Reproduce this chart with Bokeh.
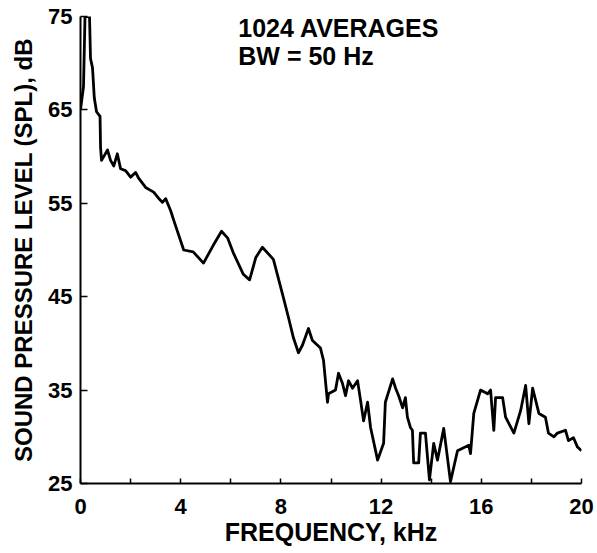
from bokeh.plotting import figure
from bokeh.models import FixedTicker, Label, Range1d
from bokeh.embed import file_html
from bokeh.resources import INLINE

# ---- data ----
freq_khz = [0.0, 0.12, 0.18, 0.36, 0.40, 0.48, 0.55, 0.64, 0.78, 0.80, 0.84, 1.08, 1.2, 1.33,
            1.47, 1.6, 1.8, 2.0, 2.2, 2.32, 2.6, 2.92, 3.1, 3.27, 3.4, 3.6, 3.72, 4.12, 4.5,
            4.91, 5.3, 5.63, 5.87, 6.1, 6.5, 6.75, 7.0, 7.26, 7.7, 8.1, 8.3, 8.5, 8.7, 8.86,
            9.1, 9.26, 9.58, 9.7, 9.86, 9.9, 10.18, 10.3, 10.46, 10.58, 10.7, 10.86, 11.06,
            11.18, 11.3, 11.46, 11.58, 11.86, 12.1, 12.17, 12.46, 12.58, 12.7, 12.86, 12.97,
            13.05, 13.17, 13.25, 13.3, 13.5, 13.57, 13.77, 13.93,
            14.1, 14.25, 14.5, 14.77, 15.05, 15.5, 15.57, 15.7, 15.97, 16.25, 16.37, 16.5,
            16.57, 16.85, 16.97, 17.3, 17.57, 17.77, 17.9, 18.05, 18.3, 18.56, 18.68, 18.9,
            19.04, 19.36, 19.48, 19.68, 19.84, 20.0]
spl_db = [65.0, 67.5, 75.0, 75.0, 70.5, 69.5, 66.3, 64.8, 64.3, 61.0, 59.6, 60.7, 59.6, 59.0,
          60.3, 58.7, 58.5, 57.8, 58.3, 57.7, 56.7, 56.2, 55.6, 55.1, 55.5, 54.2, 53.2, 50.0, 49.8,
          48.6, 50.5, 52.0, 51.3, 49.7, 47.4, 46.8, 49.2, 50.3, 49.0, 44.9, 42.8, 40.6, 39.0, 39.8,
          41.6, 40.3, 39.5, 38.2, 33.7, 34.6, 35.0, 36.8, 35.7, 34.4, 36.0, 35.2, 36.0,
          33.9, 31.7, 33.7, 31.0, 27.5, 29.3, 33.7, 36.2, 35.2, 34.4, 33.1, 34.2,
          32.1, 31.0, 30.7, 27.2, 27.2, 30.4, 30.4, 25.4,
          29.3, 27.5, 30.9, 25.2, 28.5, 29.1, 28.2, 32.5, 35.0, 34.6, 35.0, 30.7,
          34.2, 34.2, 32.1, 30.4, 32.8, 35.5, 31.4, 35.2, 32.5, 32.1, 30.4, 30.0,
          30.4, 30.7, 29.6, 29.9, 28.9, 28.5]

x_ticks = [0, 4, 8, 12, 16, 20]
x_minor_ticks = [2, 6, 10, 14, 18]
y_ticks = [25, 35, 45, 55, 65, 75]
x_title = "FREQUENCY, kHz"
y_title = "SOUND PRESSURE LEVEL (SPL), dB"
note_lines = ["1024 AVERAGES", "BW = 50 Hz"]

FONT = "Liberation Sans"

p = figure(width=595, height=550,
           x_range=Range1d(0, 20), y_range=Range1d(25, 75),
           output_backend="svg", toolbar_location=None,
           min_border_left=80, min_border_right=14,
           min_border_top=16, min_border_bottom=67)

p.outline_line_color = None
p.xgrid.grid_line_color = None
p.ygrid.grid_line_color = None
p.background_fill_color = "white"
p.border_fill_color = "white"

p.line(freq_khz, spl_db, line_color="black", line_width=2.8, line_join="round")

# x axis
xa = p.xaxis[0]
xa.ticker = FixedTicker(ticks=x_ticks, minor_ticks=x_minor_ticks)
xa.axis_line_width = 2
xa.axis_line_color = "black"
xa.major_tick_in = 5
xa.major_tick_out = 0
xa.minor_tick_in = 5
xa.minor_tick_out = 0
xa.major_tick_line_width = 1.5
xa.minor_tick_line_width = 1.5
xa.major_label_text_font = FONT
xa.major_label_text_font_style = "bold"
xa.major_label_text_font_size = "22px"
xa.major_label_text_color = "black"
xa.major_label_standoff = 15
xa.axis_label = x_title
xa.axis_label_text_font = FONT
xa.axis_label_text_font_style = "bold"
xa.axis_label_text_font_size = "25px"
xa.axis_label_text_color = "black"
xa.axis_label_standoff = 1

# y axis
ya = p.yaxis[0]
ya.ticker = FixedTicker(ticks=y_ticks, minor_ticks=[])
ya.axis_line_width = 2
ya.axis_line_color = "black"
ya.major_tick_in = 7
ya.major_tick_out = 0
ya.major_tick_line_width = 1.5
ya.minor_tick_in = 0
ya.minor_tick_out = 0
ya.major_label_text_font = FONT
ya.major_label_text_font_style = "bold"
ya.major_label_text_font_size = "22px"
ya.major_label_text_color = "black"
ya.major_label_standoff = 8
ya.axis_label = y_title
ya.axis_label_text_font = FONT
ya.axis_label_text_font_style = "bold"
ya.axis_label_text_font_size = "24px"
ya.axis_label_text_color = "black"
ya.axis_label_standoff = 8

for i, line in enumerate(note_lines):
    p.add_layout(Label(x=6.3, y=73.8 - 3.0 * i, text=line,
                       text_font=FONT, text_font_style="bold",
                       text_font_size="25px", text_color="black",
                       text_baseline="middle", text_align="left"))

open("out.html", "w").write(file_html(p, INLINE))
